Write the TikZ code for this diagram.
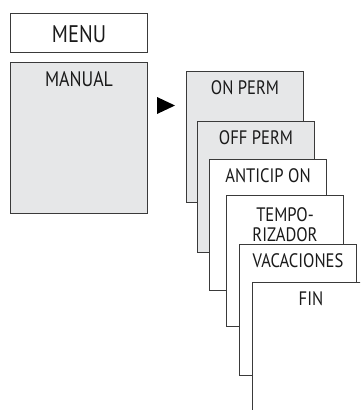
\documentclass[tikz,border=0pt]{standalone}
\usepackage{fontspec}
\setmainfont{PT Sans}[FakeStretch=0.85]
\definecolor{boxgray}{HTML}{E6E7E8}
\definecolor{edge}{HTML}{3A3A3A}
\definecolor{ink}{HTML}{1A1A1A}
\begin{document}
\begin{tikzpicture}[x=1pt,y=-1pt,
  card/.style={draw=edge, line width=1pt, anchor=north west, inner sep=0pt,
               minimum width=117pt, minimum height=131pt},
  graycard/.style={card, fill=boxgray},
  whitecard/.style={card, fill=white},
  lbl/.style={anchor=base, inner sep=0pt, font=\fontsize{19.5}{20}\selectfont, text=ink}]
\useasboundingbox (0,0) rectangle (360,410);
\clip (0,0) rectangle (360,410);
% left column
\node[draw=edge, line width=1pt, fill=white, anchor=north west, inner sep=0pt,
      minimum width=137pt, minimum height=39pt] (menu) at (10,13) {};
\node[lbl, font=\fontsize{24}{26}\selectfont] (menut) at ([yshift=-9pt]menu.center) {MENU};
\node[draw=edge, line width=1pt, fill=boxgray, anchor=north west, inner sep=0pt,
      minimum width=137pt, minimum height=151pt] (manual) at (10,62) {};
\node[lbl, font=\fontsize{21}{22}\selectfont] (manualt) at ([yshift=-24pt]manual.north) {MANUAL};
% arrow marker
\fill[black] (157,97) -- (175,105.5) -- (157,114) -- cycle;
% stacked cards
\node[graycard] (c1) at (186,71) {};
\node[lbl] (t1) at ([yshift=-23pt]c1.north) {ON PERM};
\node[graycard] (c2) at (197,121) {};
\node[lbl] (t2) at ([yshift=-23pt]c2.north) {OFF PERM};
\node[whitecard] (c3) at (209,159) {};
\node[lbl] (t3) at ([yshift=-23pt]c3.north) {ANTICIP ON};
\node[whitecard] (c4) at (226,195) {};
\node[lbl] (t4a) at ([yshift=-26pt]c4.north) {TEMPO-};
\node[lbl] (t4b) at ([yshift=-46pt]c4.north) {RIZADOR};
\node[whitecard] (c5) at (239,244) {};
\node[lbl] (t5) at ([yshift=-23pt]c5.north) {VACACIONES};
\node[whitecard] (c6) at (252,282) {};
\node[lbl] (t6) at ([yshift=-23pt]c6.north) {FIN};
\end{tikzpicture}
\end{document}
